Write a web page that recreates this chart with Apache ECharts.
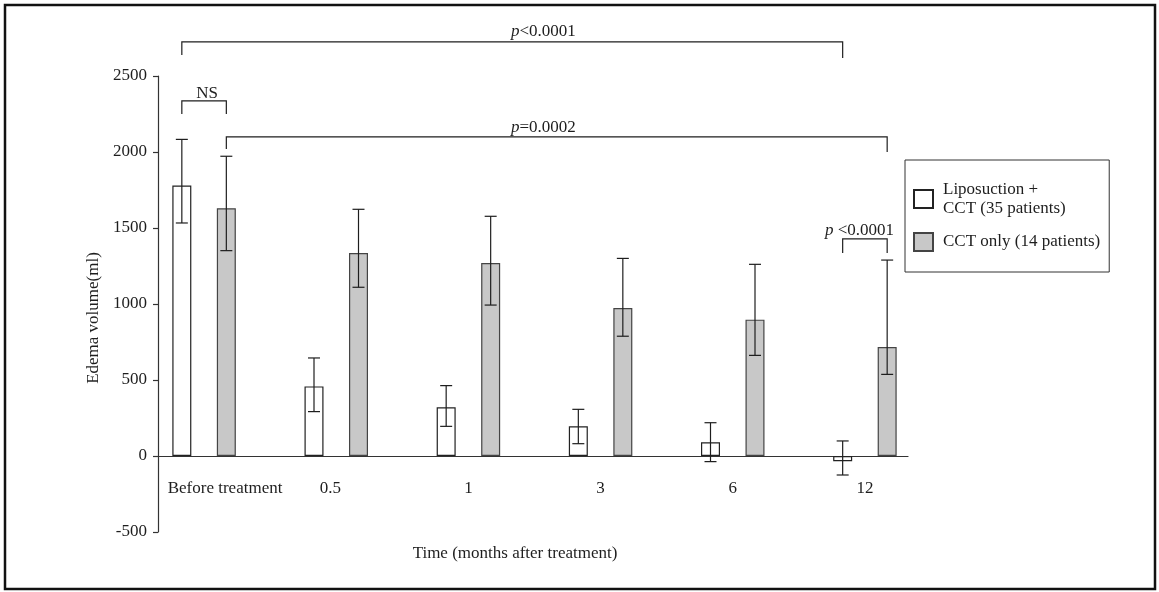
<!DOCTYPE html>
<html>
<head>
<meta charset="utf-8">
<script src="https://cdn.jsdelivr.net/npm/echarts@6/dist/echarts.min.js"></script>
<style>
html,body{margin:0;padding:0;background:#fff;}
#chart{width:1159px;height:592px;}
</style>
</head>
<body>
<div id="chart"></div>
<script>
// ---- data ----
const categories = ['Before treatment', '0.5', '1', '3', '6', '12'];
const seriesNames = ['Liposuction +\nCCT (35 patients)', 'CCT only (14 patients)'];
const lipoMean  = [1780, 458, 320, 195, 90, -35];
const lipoUpper = [2083, 645, 463, 307, 219, 99];
const lipoLower = [1533, 292, 195, 81, -37, -125];
const cctMean   = [1630, 1336, 1270, 974, 897, 717];
const cctUpper  = [1972, 1623, 1577, 1300, 1261, 1289];
const cctLower  = [1351, 1110, 993, 788, 662, 537];
const yTicks = [-500, 0, 500, 1000, 1500, 2000, 2500];

// significance brackets: [fromCategory, fromSeries, toCategory, toSeries, levelValue]
const bracketFrom = [[0, 0], [0, 0], [0, 1], [5, 0]];
const bracketTo   = [[5, 0], [0, 1], [5, 1], [5, 1]];
const bracketLevel = [2724, 2336, 2099, 1428];

// ---- layout / style constants ----
const FONT = "'Liberation Serif', 'DejaVu Serif', 'Times New Roman', serif";
const INK = '#1e1e1e';
const BAR_W = 19;
const GAP_PX = 25.5;
const HALF_OFF = (BAR_W + GAP_PX) / 2;
const bracketDrops = [[13, 16], [13, 13], [12, 15], [14, 14]];

const errLipo = categories.map((c, i) => [i, lipoLower[i], lipoUpper[i]]);
const errCct = categories.map((c, i) => [i, cctLower[i], cctUpper[i]]);
const bracketData = bracketFrom.map((f, i) => [f[0], bracketLevel[i], bracketTo[i][0], f[1], bracketTo[i][1], i]);

function errRender(side) {
  return function (params, api) {
    const idx = api.value(0);
    const c = api.coord([idx, 0]);
    const x = c[0] + side * HALF_OFF;
    const yLo = api.coord([idx, api.value(1)])[1];
    const yHi = api.coord([idx, api.value(2)])[1];
    const cap = 6;
    const st = { stroke: INK, lineWidth: 1.2 };
    return {
      type: 'group',
      children: [
        { type: 'line', shape: { x1: x, y1: yLo, x2: x, y2: yHi }, style: st },
        { type: 'line', shape: { x1: x - cap, y1: yHi, x2: x + cap, y2: yHi }, style: st },
        { type: 'line', shape: { x1: x - cap, y1: yLo, x2: x + cap, y2: yLo }, style: st }
      ]
    };
  };
}

function bracketRender(params, api) {
  const c1 = api.value(0), lvl = api.value(1), c2 = api.value(2);
  const s1 = api.value(3) === 0 ? -1 : 1;
  const s2 = api.value(4) === 0 ? -1 : 1;
  const k = api.value(5);
  const x1 = api.coord([c1, 0])[0] + s1 * HALF_OFF;
  const x2 = api.coord([c2, 0])[0] + s2 * HALF_OFF;
  const y = api.coord([c1, lvl])[1];
  const d = bracketDrops[k];
  const st = { stroke: INK, lineWidth: 1.2, fill: null };
  return {
    type: 'polyline',
    shape: { points: [[x1, y + d[0]], [x1, y], [x2, y], [x2, y + d[1]]] },
    style: st
  };
}

const chart = echarts.init(document.getElementById('chart'), null, { renderer: 'canvas', width: 1159, height: 592 });

const txt = { fontFamily: FONT, fontSize: 17, color: INK };

chart.setOption({
  animation: false,
  backgroundColor: '#fff',
  grid: [
    { left: 138, right: 228, top: 76, bottom: 60, containLabel: false, outerBoundsMode: 'none' },
    { left: 158, right: 251, top: 76, bottom: 60, containLabel: false, outerBoundsMode: 'none' }
  ],
  xAxis: [
    {
      type: 'category', gridIndex: 0,
      data: categories.map((c, i) => {
        if (i === 0) return { value: c, textStyle: { padding: [0, 0, 0, 42] } };
        if (i === 1) return { value: c, textStyle: { padding: [0, 12, 0, 0] } };
        return c;
      }),
      axisLine: { show: false, onZero: false },
      axisTick: { show: false },
      axisLabel: Object.assign({ margin: -52, interval: 0 }, txt),
      splitLine: { show: false },
      name: 'Time (months after treatment)',
      nameLocation: 'middle',
      nameGap: 13,
      nameTextStyle: Object.assign({ padding: [0, 39, 0, 0] }, txt)
    },
    {
      type: 'value', gridIndex: 1, min: 0, max: 1,
      axisLine: { show: true, onZero: true, lineStyle: { color: '#333', width: 1.2 } },
      axisTick: { show: false },
      axisLabel: { show: false },
      splitLine: { show: false }
    }
  ],
  yAxis: [
    { type: 'value', gridIndex: 0, min: yTicks[0], max: yTicks[yTicks.length - 1], show: false, splitLine: { show: false } },
    {
      type: 'value', gridIndex: 1, min: yTicks[0], max: yTicks[yTicks.length - 1], interval: 500,
      axisLine: { show: true, lineStyle: { color: '#333', width: 1.2 } },
      axisTick: { show: true, length: 5, lineStyle: { color: '#333', width: 1.2 } },
      axisLabel: Object.assign({ margin: 11, formatter: function (v) { return String(v); } }, txt),
      splitLine: { show: false },
      name: 'Edema volume(ml)',
      nameLocation: 'middle',
      nameGap: 44,
      nameRotate: 90,
      nameTextStyle: Object.assign({ padding: [0, 28, 0, 0] }, txt)
    }
  ],
  legend: {
    orient: 'vertical', left: 905, top: 160,
    padding: [20, 9, 20, 8],
    itemGap: 14, itemWidth: 19, itemHeight: 18,
    borderColor: '#333', borderWidth: 1,
    selectedMode: false,
    icon: 'rect',
    textStyle: Object.assign({ lineHeight: 19, padding: [0, 0, 0, 5] }, txt),
    data: seriesNames
  },
  series: [
    {
      name: seriesNames[0], type: 'bar', xAxisIndex: 0, yAxisIndex: 0,
      data: lipoMean, barWidth: BAR_W, barGap: (GAP_PX / BAR_W * 100).toFixed(1) + '%',
      itemStyle: { color: '#ffffff', borderColor: '#222', borderWidth: 1.2 }, z: 2
    },
    {
      name: seriesNames[1], type: 'bar', xAxisIndex: 0, yAxisIndex: 0,
      data: cctMean, barWidth: BAR_W,
      itemStyle: { color: '#c8c8c8', borderColor: '#444', borderWidth: 1.2 }, z: 2
    },
    {
      type: 'custom', xAxisIndex: 0, yAxisIndex: 0, data: errLipo,
      encode: { x: 0, y: [1, 2] }, renderItem: errRender(-1), z: 4, silent: true
    },
    {
      type: 'custom', xAxisIndex: 0, yAxisIndex: 0, data: errCct,
      encode: { x: 0, y: [1, 2] }, renderItem: errRender(1), z: 4, silent: true
    },
    {
      type: 'custom', xAxisIndex: 0, yAxisIndex: 0, data: bracketData,
      encode: { x: 0, y: 1 }, renderItem: bracketRender, clip: false, z: 4, silent: true
    }
  ],
  graphic: [
    { type: 'rect', shape: { x: 5, y: 5, width: 1150, height: 584 }, style: { fill: null, stroke: '#111', lineWidth: 2.5 }, silent: true },
    { type: 'text', x: 511, y: 32, style: { text: '{i|p}<0.0001', font: '17px ' + FONT, fill: INK, verticalAlign: 'middle', rich: { i: { fontStyle: 'italic', fontFamily: FONT, fontSize: 17 } } } },
    { type: 'text', x: 511, y: 128, style: { text: '{i|p}=0.0002', font: '17px ' + FONT, fill: INK, verticalAlign: 'middle', rich: { i: { fontStyle: 'italic', fontFamily: FONT, fontSize: 17 } } } },
    { type: 'text', x: 207, y: 94, style: { text: 'NS', font: '17px ' + FONT, fill: INK, align: 'center', verticalAlign: 'middle' } },
    { type: 'text', x: 825, y: 231, style: { text: '{i|p} <0.0001', font: '17px ' + FONT, fill: INK, verticalAlign: 'middle', rich: { i: { fontStyle: 'italic', fontFamily: FONT, fontSize: 17 } } } }
  ]
});
</script>
</body>
</html>
